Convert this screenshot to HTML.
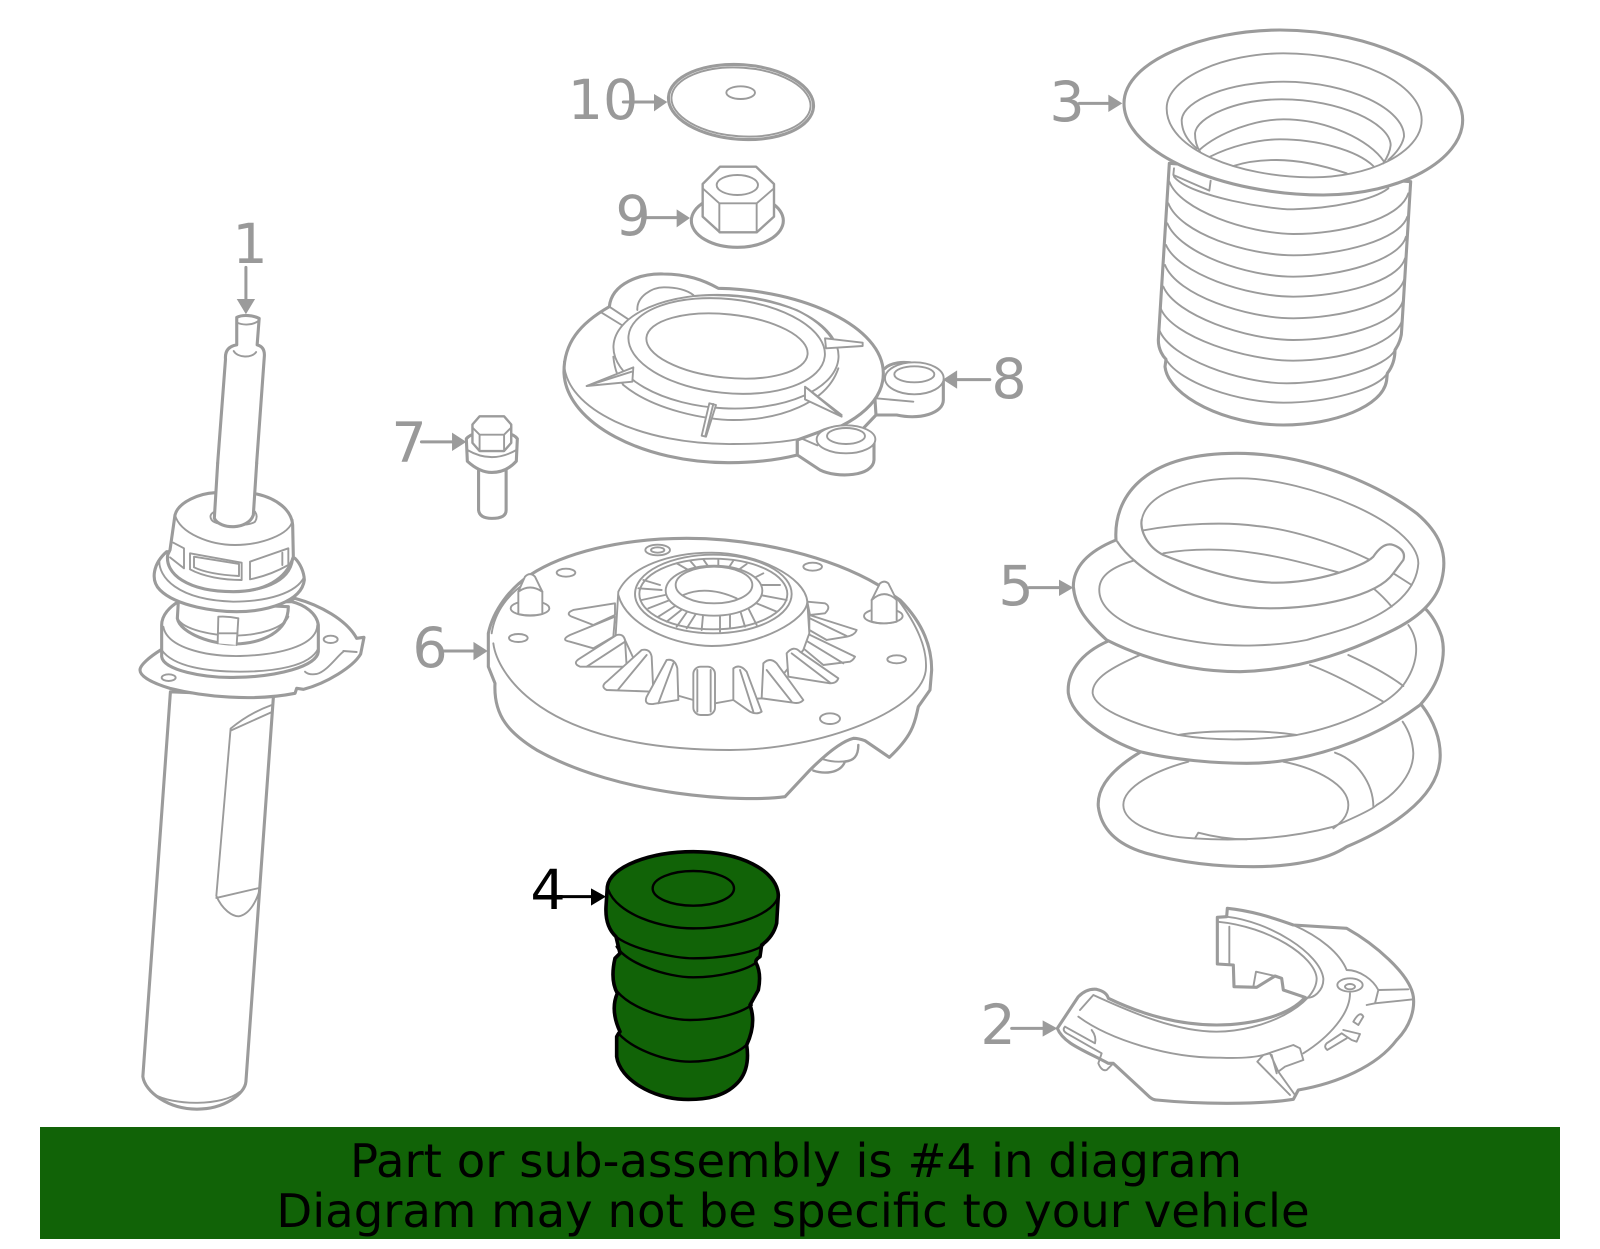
<!DOCTYPE html>
<html><head><meta charset="utf-8"><style>
html,body{margin:0;padding:0;background:#fff}
svg{display:block}
svg *{vector-effect:non-scaling-stroke;stroke-linejoin:round;stroke-linecap:round}
.p{fill:#fff;stroke:#9b9b9b;stroke-width:1.9}
.t{fill:#fff;stroke:#9b9b9b;stroke-width:3.1}
.n{fill:none;stroke:#9b9b9b;stroke-width:1.9}
.h{fill:none;stroke:#9b9b9b;stroke-width:3.1}
.a{fill:#9b9b9b;stroke:none}
.l{fill:none;stroke:#9b9b9b;stroke-width:3}
.d{font:55.5px "DejaVu Sans",sans-serif;fill:#999;text-anchor:middle}
.g{fill:#116307;stroke:#000;stroke-width:2.4}
.gt{fill:#116307;stroke:#000;stroke-width:3.6}
.bk{fill:none;stroke:#000;stroke-width:2.4}
.b{font:46.6px "DejaVu Sans",sans-serif;fill:#000;text-anchor:middle}
</style></head><body>
<svg width="1600" height="1249" viewBox="0 0 1600 1249" xmlns="http://www.w3.org/2000/svg">
<rect width="1600" height="1249" fill="#fff"/>

<!-- Part 1 strut lower -->
<g transform="scale(1.0204)">
<path class="t" d="M167,678L140,1055C142,1070 165,1087 193,1087C220,1087 240,1072 241,1060L268,682Z"/>
<path class="n" d="M150,1072C170,1084 218,1084 235,1070"/>
<path class="n" d="M212,878L226,714C238,704 252,696 266,691M226,716L266,698M212,878C218,892 228,898 234,898C245,896 252,882 255,870L212,880"/>
<path class="t" d="M213.3,454L221,352Q220,340 232,338L232,311C238,308 248,309 254,312L252,338Q260,340 259,350L251.5,454"/>
<path class="n" d="M229,344C233,351 247,351 251,345M232,316C238,319 248,319 254,314"/>
</g>
<g transform="translate(120,470) scale(.33333)">
<path class="t" d="M525,385C600,405 680,450 710,505L732,502L722,552C700,590 620,640 550,658L530,655L525,670C400,695 250,680 150,655C100,640 60,620 60,600C60,585 90,560 122,540Z"/>
<path class="n" d="M670,543L710,546M670,545C650,560 620,605 590,612C570,615 560,610 555,605"/>
<ellipse class="n" cx="632" cy="508" rx="21" ry="11"/><ellipse class="n" cx="146" cy="623" rx="21" ry="10"/>
<path class="t" d="M175,395C150,410 125,435 125,465L125,560C130,600 250,625 350,622C470,620 590,590 595,545L595,465C590,430 555,405 515,395Z"/>
<path class="n" d="M130,470C140,530 250,560 360,558C470,555 590,530 592,465M125,540C160,590 260,605 360,605C460,605 570,590 595,535"/>
<path class="t" d="M175,395L172,445C180,490 280,525 345,522C420,520 505,490 505,410Z"/>
<path class="n" d="M172,445C190,480 280,497 345,497C420,495 490,475 505,440"/>
<path class="p" d="M293,520L295,440Q325,438 355,445L350,525"/>
<path class="n" d="M295,490L352,490"/>
<path class="t" d="M140,245C100,280 90,330 120,360C170,410 290,425 350,425C440,425 545,395 553,330C552,305 540,280 525,265Z"/>
<path class="n" d="M118,270C115,320 170,390 340,395C440,395 530,370 553,320"/>
<path class="n" d="M143,255C135,310 200,365 340,365C440,365 520,330 520,255"/>
<path class="t" d="M150,240L165,135C175,95 240,70 285,68L410,72C470,85 515,120 518,165L520,260C500,330 430,365 340,365C200,365 135,310 143,255Z"/>
<path class="n" d="M165,135C180,190 270,225 345,225C420,225 510,195 518,150"/>
<path class="n" d="M210,250L365,278L365,330C310,330 250,320 210,298Z"/>
<path class="n" d="M222,260L357,282L357,318C300,315 255,308 222,292Z"/>
<path class="n" d="M390,275L505,235L505,285C470,305 430,320 390,328Z M487,248L487,285"/>
<path class="n" d="M160,218L192,235L192,295L150,262"/>
<path class="n" d="M283,125Q265,135 275,150C290,170 390,170 405,155Q415,140 405,125"/>
<path d="M293,-20L283,145C300,180 385,180 400,135L410,-20Z" fill="#fff" stroke="none"/>
<path class="h" d="M293,-20L283,145C300,180 385,180 400,135L410,-20"/>
</g>

<!-- top-middle parts 10, 9, 8 -->
<g transform="translate(520,40) scale(.33333)">
<ellipse class="t" cx="663" cy="186" rx="218" ry="112" transform="rotate(4 663 186)"/>
<ellipse class="n" cx="663" cy="186" rx="209" ry="103" transform="rotate(4 663 186)"/>
<ellipse class="n" cx="662" cy="158" rx="43" ry="19"/>
<path class="l" d="M310,186L405,186"/><path class="a" d="M402,162L402,214L442,186Z"/>

<ellipse class="t" cx="652" cy="542" rx="138" ry="80"/>
<path class="t" d="M600,380L708,380L762,432L762,530L710,577L600,577L548,530L548,432Z" style="stroke-width:2.4"/>
<path class="n" d="M548,445L598,490L710,490L762,445M598,490L598,577M710,490L710,577"/>
<ellipse class="n" cx="652" cy="435" rx="62" ry="30"/>
<path class="l" d="M380,533L470,533"/><path class="a" d="M470,508L470,562L510,534Z"/>

<path class="t" d="M1068,1125L1130,1125C1200,1140 1270,1120 1270,1080L1270,1020C1240,970 1130,950 1095,985L1060,1000Z"/>
<ellipse class="p" cx="1183" cy="1015" rx="88" ry="48"/>
<ellipse class="n" cx="1183" cy="1003" rx="60" ry="24"/>
<path class="n" d="M1068,1075L1180,1085"/>
<path class="h" d="M1068,1125L1030,1165"/>
<path class="t" d="M268,800C180,850 130,910 132,1000C140,1150 370,1270 630,1268C710,1268 780,1258 832,1245L832,1200C950,1180 1090,1110 1090,1000C1090,860 850,750 595,745C550,720 500,702 430,702C360,700 275,730 268,800Z"/>
<path class="n" d="M132,965C132,1110 370,1215 640,1212C720,1212 780,1208 832,1198"/>
<path class="n" d="M245,818L305,855M268,800L325,838M352,810C350,770 395,742 432,742C470,742 500,750 520,765"/>
<ellipse class="p" cx="618" cy="935" rx="338" ry="170" transform="rotate(3 618 935)"/>
<path class="n" d="M310,1035C400,1110 560,1140 640,1140C780,1140 920,1090 955,985"/>
<path class="n" d="M280,950C285,1000 300,1020 310,1035"/>
<ellipse class="p" cx="620" cy="918" rx="296" ry="141" transform="rotate(6 620 918)"/>
<ellipse class="p" cx="621" cy="918" rx="243" ry="95" transform="rotate(6 621 918)"/>
<path class="n" d="M520,768C620,760 720,770 830,810C880,835 915,865 935,895"/>
<path class="p" d="M200,1038L340,982L337,1025Z"/><path class="n" d="M200,1038L335,995"/>
<path class="p" d="M915,895L1028,908L1028,918L918,925Z"/>
<path class="p" d="M855,1040L965,1130L855,1078Z"/><path class="n" d="M862,1045L965,1125"/>
<path class="p" d="M568,1090L588,1095L558,1190L545,1187Z"/><path class="n" d="M580,1092L556,1188"/>
<path class="t" d="M832,1200L832,1245L900,1290C950,1315 1060,1310 1062,1260L1062,1205C1050,1160 960,1145 900,1175Z"/>
<ellipse class="p" cx="978" cy="1198" rx="88" ry="42"/>
<ellipse class="n" cx="978" cy="1188" rx="57" ry="24"/>
<path class="n" d="M848,1197L892,1216"/>
</g>
<g transform="scale(1.0204)">
<path class="l" d="M970,372L938,372"/><path class="a" d="M938,363L938,381L924,372Z"/>
<!-- Part 7 -->
<path class="t" d="M469,455L469,500Q470,508 482,508Q496,508 496,500L496,455Z"/>
<path class="t" d="M457,430L458,452Q470,463 482,463Q496,463 506,452L507,430C500,420 465,420 457,430Z"/>
<path class="n" d="M458,441Q482,455 506,441"/>
<path class="t" d="M470,408L494,408L501,416L501,434L494,442L470,442L463,434L463,416Z" style="stroke-width:2.4"/>
<path class="n" d="M463,419L470,426L494,426L501,419M470,426L470,442M494,426L494,442"/>
<path class="l" d="M413,433L443,433"/><path class="a" d="M443,424L443,442L457,433Z"/>
<path class="l" d="M241,262L241,295"/><path class="a" d="M232,293L250,293L241,308Z"/>
<path class="l" d="M434,638L464,638"/><path class="a" d="M464,629L464,647L478,638Z"/>
</g>

<!-- Part 6 -->
<g transform="translate(470,520) scale(.33333)">
<path class="t" d="M55,340C70,270 120,205 180,165C280,100 450,55 650,55C860,55 1080,110 1225,195L1290,240C1350,300 1385,370 1385,450L1380,510L1345,560C1335,600 1335,640 1258,712L1185,662Q1165,655 1150,655C1110,665 1060,710 1020,750L945,830C820,848 450,830 200,690C120,640 70,590 75,490L55,440Z"/>
<path class="h" d="M1030,752C1060,762 1110,762 1125,725C1150,722 1165,710 1165,675" style="stroke-width:2.4"/>
<path class="n" d="M1060,718Q1100,730 1135,722"/>
<path class="n" d="M65,340C75,270 120,220 165,190M70,370C80,450 200,690 780,690C1050,690 1370,570 1368,440C1370,370 1330,300 1285,240"/>
<g>
<ellipse class="n" cx="180" cy="265" rx="58" ry="22"/>
<path class="p" d="M145,282L145,215L165,170Q180,155 195,170L217,215L217,282Q180,290 145,282Z"/>
<path class="n" d="M145,215Q180,190 217,215"/>
<ellipse class="n" cx="1240" cy="288" rx="58" ry="22"/>
<path class="p" d="M1205,305L1205,240L1230,190Q1243,180 1255,190L1280,240L1280,305Q1240,315 1205,305Z"/>
<path class="n" d="M1205,240Q1243,205 1280,240"/>
</g>
<ellipse class="n" cx="288" cy="158" rx="28" ry="12"/>
<ellipse class="n" cx="145" cy="354" rx="28" ry="12"/>
<ellipse class="n" cx="1028" cy="140" rx="28" ry="12"/>
<ellipse class="n" cx="1280" cy="418" rx="28" ry="12"/>
<ellipse class="n" cx="1080" cy="596" rx="30" ry="16"/>
<ellipse class="n" cx="563" cy="90" rx="37" ry="16"/>
<ellipse class="n" cx="563" cy="90" rx="20" ry="8"/>
<path class="p" d="M435,250L310,270Q285,280 305,290L370,315L435,285Z"/>
<path class="p" d="M435,290L300,345Q270,360 300,365L370,385L430,350Z"/>
<path class="p" d="M1012,245L1065,250Q1085,260 1065,280L1020,285Z"/>
<path class="p" d="M1018,285L1160,330Q1155,345 1130,350L1070,360L1018,330Z"/><path class="n" d="M1020,295L1130,348"/>
<path class="p" d="M1005,365L1010,340L1155,410Q1150,420 1140,425L1060,435L1000,385Z"/><path class="n" d="M1005,360L1120,430"/>
<path class="p" d="M437,345L445,215C480,140 600,98 725,98C860,98 1005,170 1012,245L1018,340L1000,390L880,535L790,540L735,550L670,540L530,500L465,360Z"/>
<path class="n" d="M445,225C470,320 620,378 725,378C870,378 1010,300 1012,245"/>
<path class="p" d="M440,345Q460,340 465,360L470,440L330,440Q305,430 330,415Z"/><path class="n" d="M350,440L465,365"/>
<path class="p" d="M515,390Q540,385 545,410L550,515L410,510Q390,500 410,485Z"/><path class="n" d="M445,508L530,405"/>
<path class="p" d="M590,420Q615,415 622,445L625,540L550,552Q520,555 530,530Z"/><path class="n" d="M565,550L610,430"/>
<rect class="p" x="670" y="440" width="65" height="145" rx="22"/><path class="n" d="M682,450L682,575M722,450L722,575"/>
<path class="p" d="M790,445Q810,430 830,455L875,575Q860,585 840,575L790,540Z"/><path class="n" d="M810,450L850,575"/>
<path class="p" d="M880,430Q900,410 920,430L1000,540Q990,552 970,548L875,535Z"/><path class="n" d="M890,450L965,545"/>
<path class="p" d="M950,400Q970,375 990,395L1105,475Q1100,490 1080,490L955,470Z"/><path class="n" d="M965,400L1080,488"/>
<ellipse class="n" cx="730" cy="222" rx="235" ry="118"/>
<ellipse class="n" cx="730" cy="222" rx="222" ry="106"/>
<path class="n" d="M520,180L570,195M505,205L575,210M515,240L585,225M535,265L600,240M565,290L620,255M590,305L640,265M620,320L655,270M650,325L685,270M695,330L700,275M750,335L750,275M780,325L780,275M825,320L810,270M860,315L835,265M920,275L860,250M950,240L870,225M930,195L870,195M880,160L850,175M620,130L655,150M660,122L680,145M700,118L715,140M745,118L745,140M790,122L775,145M830,132L805,150"/>
<ellipse class="p" cx="732" cy="212" rx="145" ry="75"/>
<ellipse class="n" cx="732" cy="195" rx="115" ry="55"/>
<path class="n" d="M640,225Q710,195 800,235"/>
</g>

<!-- Part 3 -->
<g transform="translate(1040,20) scale(.33333)">
<path class="t" d="M388,430L355,960C355,990 370,1010 378,1018L375,1040C385,1130 560,1215 730,1215C880,1215 1030,1160 1040,1080L1042,1060Q1065,1030 1065,990Q1085,960 1085,930L1112,485Z"/>
<path class="n" d="M402,470C450,530 700,570 760,568C880,565 1000,540 1045,505"/>
<path class="n" d="M388,485C420,570 620,640 760,642C900,642 1080,600 1105,520"/>
<path class="n" d="M385,550C420,640 620,705 760,706C900,706 1080,660 1102,590"/>
<path class="n" d="M382,610C420,700 620,770 760,770C900,770 1080,720 1098,650"/>
<path class="n" d="M378,675C415,760 620,830 760,830C900,830 1075,785 1095,715"/>
<path class="n" d="M375,735C410,825 620,895 760,895C900,895 1070,850 1092,780"/>
<path class="n" d="M370,800C405,885 620,960 760,960C900,960 1065,915 1088,845"/>
<path class="n" d="M362,865C395,950 620,1022 760,1022C900,1022 1060,975 1085,905"/>
<path class="n" d="M358,930C390,1015 600,1090 740,1090C880,1090 1040,1040 1065,990"/>
<path class="n" d="M378,1018C420,1090 600,1148 730,1148C860,1148 1010,1110 1042,1060"/>
<path class="n" d="M402,445L400,465L508,512L512,482"/>
<path class="t" d="M252,250C252,120 500,30 720,30C1000,30 1268,160 1268,300C1268,420 1080,525 850,525C550,525 252,400 252,250Z"/>
<path class="n" d="M380,265C380,170 560,100 730,100C950,100 1145,190 1145,300C1145,400 980,475 810,472C600,470 380,390 380,265Z"/>
<path class="n" d="M470,385C440,360 425,330 425,300C430,240 570,185 730,185C930,185 1095,270 1092,350Q1085,385 1045,420"/>
<path class="n" d="M480,395C470,380 465,360 465,340C470,290 590,238 725,238C900,238 1050,310 1052,375Q1050,400 1030,430"/>
<path class="n" d="M478,390C540,335 650,298 730,298C860,298 990,360 1032,425"/>
<path class="n" d="M510,410C570,380 650,358 720,358C830,358 950,390 1000,438"/>
<path class="n" d="M580,438C620,425 660,420 710,420C780,420 860,440 920,460"/>
<path class="l" d="M118,250L208,250"/><path class="a" d="M205,224L205,276L247,250Z"/>
</g>

<!-- Part 5 -->
<g transform="translate(1040,440) scale(.33333)">
<path class="h" style="fill:#fff" d="M300,937C220,985 170,1040 175,1100C185,1180 250,1220 320,1240C450,1275 570,1280 640,1280C760,1280 860,1260 920,1220C1040,1170 1190,1080 1200,960C1205,900 1180,840 1145,795"/>
<path class="n" d="M445,965C350,990 250,1040 250,1095C250,1150 350,1190 460,1195C600,1205 750,1195 880,1160C950,1130 1000,1105 1010,1095C1070,1060 1120,1000 1120,940C1118,900 1105,870 1088,845"/>
<path class="n" d="M885,938C950,960 1000,1030 1000,1100M730,965C830,985 925,1035 925,1095C925,1130 900,1150 880,1165M465,1195L475,1178C520,1190 570,1198 620,1198"/>
<path class="h" style="fill:#fff" d="M205,603C120,640 80,700 85,760C95,830 200,900 300,935C400,960 530,970 620,970C800,970 1000,900 1140,795C1200,730 1220,650 1205,590C1195,560 1180,530 1155,505"/>
<path class="n" style="fill:#fff" d="M300,645C220,680 155,715 158,760C165,810 300,860 415,885C530,905 660,900 770,885C900,860 1040,800 1090,735C1130,680 1145,610 1105,555"/>
<path class="n" d="M415,885C500,870 680,870 770,885M810,675C880,700 960,745 1030,785M925,645C980,670 1040,700 1090,738M315,570C420,555 550,555 640,565C700,575 760,590 800,600"/>
<path class="h" style="fill:#fff" d="M228,300C130,340 100,390 100,440C105,500 135,540 200,600C300,650 430,695 600,695C800,690 960,620 1060,570C1140,530 1190,480 1205,420C1225,340 1200,280 1130,220C1010,130 800,40 590,40C300,40 220,180 228,300Z"/>
<path class="n" style="fill:#fff" d="M280,362C220,380 180,405 178,445C175,490 210,525 270,555C310,575 420,600 500,610C580,620 700,620 800,600C830,590 900,575 960,550C1060,510 1130,450 1135,370C1135,250 800,115 600,115C450,115 320,160 305,240C300,270 320,320 370,345Z"/>
<path class="n" d="M305,272C420,250 560,245 650,258C780,270 930,330 990,360M370,340C450,325 560,325 650,340C750,355 850,385 905,400M1060,400L1115,435M1000,445Q1030,470 1055,500"/>
<path d="M238,305C285,380 450,505 690,505C830,505 1010,470 1060,400L1090,360Q1100,330 1060,315Q1030,305 1000,350C970,380 830,430 700,428C590,425 470,385 370,345C320,320 300,270 305,240L238,270Z" fill="#fff" stroke="none"/>
<path class="h" style="stroke-width:2.2" d="M232,305C280,380 450,505 690,505C830,505 1010,470 1060,400L1090,360Q1100,330 1060,315Q1030,305 1000,350C970,380 830,430 700,428C590,425 470,385 370,345C320,320 300,270 305,240"/>
<path class="l" d="M-33,443L60,443"/><path class="a" d="M57,419L57,468L100,443Z"/>
</g>

<!-- Part 2 -->
<g transform="translate(970,890) scale(.33333)">
<path class="t" d="M262,415C280,460 340,480 415,520L430,520L540,622Q550,630 560,630C680,642 860,645 970,628L985,600C1100,580 1220,530 1280,450C1320,410 1335,360 1330,320C1320,250 1210,160 1130,115L970,105C900,80 840,62 772,55L770,80L742,82L742,222L790,225L792,290L860,292L915,258L935,265L940,300L1005,322C960,375 850,405 740,405C650,405 540,385 415,325Q410,305 380,298Q350,295 325,320Z"/>
<path class="n" d="M770,80C900,95 1050,190 1060,265C1062,300 1030,330 1005,322"/>
<path class="n" d="M742,95C900,110 1035,200 1040,265C1040,345 880,425 740,425C620,425 490,370 370,315L330,360"/>
<path class="n" d="M778,110L778,222M850,290L858,245L915,258"/>
<path class="n" d="M325,380C420,450 600,505 750,503C800,505 850,503 880,495L970,465L990,475L1000,510L945,530L925,545L975,615"/>
<path class="n" d="M862,515L880,495L900,490L925,545M862,515L960,615M905,495L920,550"/>
<path class="n" d="M970,105C1050,140 1110,190 1130,240C1170,240 1210,270 1225,300L1315,298M1225,300L1215,340L1190,345M1330,328L1215,340"/>
<ellipse class="n" cx="1140" cy="285" rx="38" ry="20"/><ellipse class="n" cx="1140" cy="290" rx="15" ry="8"/>
<path class="n" d="M1140,310C1140,370 1080,440 1000,490"/>
<path class="n" d="M1120,420L1170,432L1160,455L1145,450L1115,430M1115,430L1070,460Q1060,470 1072,480L1130,445M1150,395Q1170,360 1180,380L1165,405Z"/>
<path class="n" d="M285,410L375,460Q380,440 365,420M285,410Q275,420 290,430L395,490L385,520Q395,545 410,540L430,520"/>
<path class="l" d="M125,415L220,415"/><path class="a" d="M218,391L218,440L262,415Z"/>
</g>

<!-- Part 4 -->
<g transform="translate(520,840) scale(.33333)">
<path class="gt" d="M262,140C270,80 390,35 520,35C660,35 770,90 775,165L770,250Q760,290 725,315L720,350Q705,360 708,368Q725,400 715,450L690,495Q710,550 680,615Q690,680 660,720C620,770 560,780 490,778C400,775 300,720 290,650L290,590Q295,580 300,575Q270,510 292,460Q270,420 285,355Q300,340 300,340L288,290Q255,260 258,200Z"/>
<path class="bk" d="M265,150C290,220 420,268 530,265C640,265 770,220 775,165"/>
<ellipse class="bk" cx="520" cy="145" rx="122" ry="52"/>
<path class="bk" d="M288,290C340,330 470,355 520,355C600,355 700,340 730,315"/>
<path class="bk" d="M290,320C320,370 440,412 520,412C600,412 680,390 708,368"/>
<path class="bk" d="M292,455C340,510 450,540 510,540C590,540 660,520 695,495"/>
<path class="bk" d="M295,580C340,630 440,665 510,665C580,665 650,645 682,612"/>
<path d="M125,170L215,170" fill="none" stroke="#000" stroke-width="3"/>
<path d="M213,145L213,197L258,170Z" fill="#000"/>
</g>

<text class="d" x="250" y="263">1</text>
<text class="d" x="998" y="1044">2</text>
<text class="d" x="1067" y="121">3</text>
<text class="d" x="548" y="909" style="fill:#000">4</text>
<text class="d" x="1016" y="605">5</text>
<text class="d" x="430" y="667">6</text>
<text class="d" x="409" y="462">7</text>
<text class="d" x="1009" y="398">8</text>
<text class="d" x="633" y="235">9</text>
<text class="d" x="603" y="119">10</text>

<rect x="40" y="1127" width="1520" height="112" fill="#116307"/>
<text class="b" x="796" y="1177">Part or sub-assembly is #4 in diagram</text>
<text class="b" x="793" y="1227">Diagram may not be specific to your vehicle</text>
</svg>
</body></html>
